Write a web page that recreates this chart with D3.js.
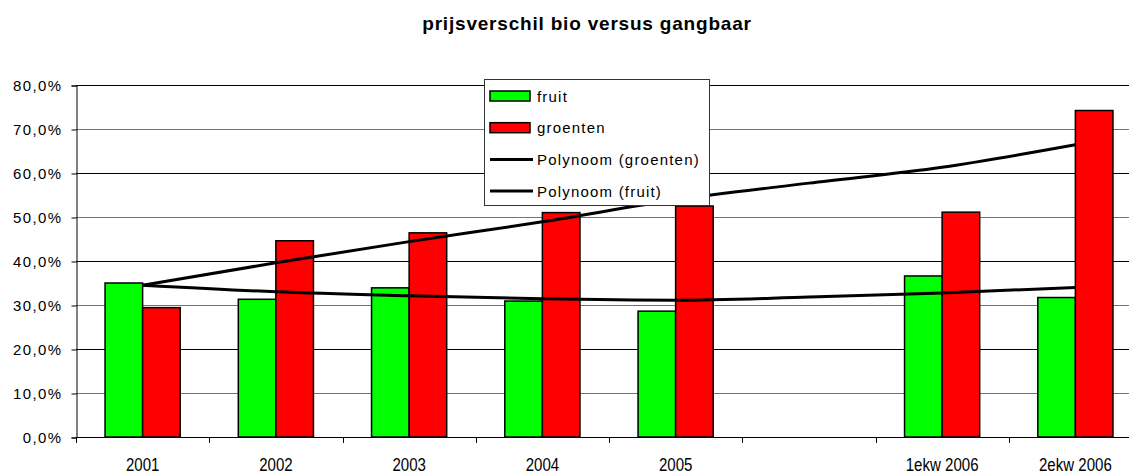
<!DOCTYPE html>
<html>
<head>
<meta charset="utf-8">
<script src="https://cdn.jsdelivr.net/npm/d3@7"></script>
<style>
  body { margin: 0; background: #fff; }
  svg { display: block; font-family: "Liberation Sans", Arial, sans-serif; }
</style>
</head>
<body>
<svg id="chart" width="1129" height="473"></svg>
<script>
// categories (one empty slot between 2005 and 1ekw 2006)
var categories = ['2001', '2002', '2003', '2004', '2005', '', '1ekw 2006', '2ekw 2006'];
var fruit =    [35.0, 31.3, 33.9, 30.9, 28.6, null, 36.6, 31.7];
var groenten = [29.4, 44.6, 46.4, 51.0, 52.5, null, 51.1, 74.2];
// trend lines at each category centre
var trendGroenten = [34.5, 39.6, 44.4, 48.9, 53.9, 57.7, 61.3, 66.4];
var trendFruit =    [34.5, 33.0, 32.1, 31.4, 31.1, 31.8, 32.7, 34.0];
var yTicks = [0, 10, 20, 30, 40, 50, 60, 70, 80];

var svg = d3.select('#chart');
var plotLeft = 76, plotRight = 1142, plotTop = 85, plotBottom = 437;

var x = d3.scaleBand().domain(d3.range(categories.length)).range([plotLeft, plotRight]).padding(0);
var y = d3.scaleLinear().domain([0, 80]).range([plotBottom, plotTop]);
var barW = x.bandwidth() * 0.282;

// title
svg.append('text')
    .attr('x', 587).attr('y', 30)
    .attr('text-anchor', 'middle')
    .style('font-size', '19px').style('font-weight', 'bold')
    .style('letter-spacing', '0.8px')
    .text('prijsverschil bio versus gangbaar');

// gridlines
svg.append('g').selectAll('line').data(yTicks).enter().append('line')
    .attr('x1', plotLeft).attr('x2', plotRight)
    .attr('y1', function(d) { return Math.round(y(d)) + 0.5; })
    .attr('y2', function(d) { return Math.round(y(d)) + 0.5; })
    .attr('stroke', '#000').attr('stroke-width', 1)
    .attr('stroke-opacity', function(d, i) { return i % 2 ? 0.55 : 1; });

// y axis
var yAxis = svg.append('g')
    .attr('transform', 'translate(' + (plotLeft + 0.5) + ',0.5)')
    .call(d3.axisLeft(y).tickValues(yTicks).tickSize(5).tickPadding(9)
        .tickFormat(function(d) { return d.toFixed(1).replace('.', ',') + '%'; }));
yAxis.select('.domain').attr('stroke', '#000');
yAxis.selectAll('.tick line').attr('stroke', '#000');
yAxis.selectAll('text').style('font-size', '15px').attr('fill', '#000')
    .style('letter-spacing', '1.4px')
    .style('font-family', '"Liberation Sans", Arial, sans-serif');

// x axis ticks at category boundaries
var xb = d3.scaleLinear().domain([0, categories.length]).range([plotLeft, plotRight]);
svg.append('g').selectAll('line').data(d3.range(categories.length + 1)).enter().append('line')
    .attr('x1', function(d) { return Math.round(xb(d)) + 0.5; })
    .attr('x2', function(d) { return Math.round(xb(d)) + 0.5; })
    .attr('y1', plotBottom).attr('y2', plotBottom + 6)
    .attr('stroke', '#000');
svg.append('line')
    .attr('x1', plotLeft).attr('x2', plotRight)
    .attr('y1', plotBottom + 0.5).attr('y2', plotBottom + 0.5)
    .attr('stroke', '#000');

svg.append('g').selectAll('text').data(categories).enter().append('text')
    .attr('transform', function(d, i) {
        return 'translate(' + (x(i) + x.bandwidth() / 2) + ',471) scale(0.86,1)';
    })
    .attr('text-anchor', 'middle')
    .style('font-size', '17.5px')
    .text(function(d) { return d; });

// bars
function drawBars(values, color, offset) {
    svg.append('g').selectAll('rect')
        .data(values.map(function(v, i) { return {v: v, i: i}; }).filter(function(d) { return d.v != null; }))
        .enter().append('rect')
        .attr('x', function(d) { return x(d.i) + x.bandwidth() / 2 + offset * barW; })
        .attr('y', function(d) { return y(d.v); })
        .attr('width', barW)
        .attr('height', function(d) { return plotBottom - y(d.v); })
        .attr('fill', color)
        .attr('stroke', '#000').attr('stroke-width', 1.5);
}
drawBars(fruit, '#00ff00', -1);
drawBars(groenten, '#ff0000', 0);

// trend lines
var line = d3.line()
    .x(function(d, i) { return x(i) + x.bandwidth() / 2; })
    .y(function(d) { return y(d); })
    .curve(d3.curveMonotoneX);
[trendGroenten, trendFruit].forEach(function(t) {
    svg.append('path').attr('d', line(t))
        .attr('fill', 'none').attr('stroke', '#000').attr('stroke-width', 3);
});

// legend
var lg = svg.append('g').attr('transform', 'translate(484,79)');
lg.append('rect').attr('x', 0.5).attr('y', 0.5).attr('width', 225).attr('height', 126)
    .attr('fill', '#fff').attr('stroke', '#333').attr('stroke-width', 1);
var legendItems = [
    {label: 'fruit', type: 'bar', color: '#00ff00'},
    {label: 'groenten', type: 'bar', color: '#ff0000'},
    {label: 'Polynoom (groenten)', type: 'line'},
    {label: 'Polynoom (fruit)', type: 'line'}
];
var li = lg.selectAll('g.item').data(legendItems).enter().append('g')
    .attr('class', 'item')
    .attr('transform', function(d, i) { return 'translate(0,' + (17 + i * 31.7) + ')'; });
li.filter(function(d) { return d.type === 'bar'; }).append('rect')
    .attr('x', 6).attr('y', -5).attr('width', 40).attr('height', 10)
    .attr('fill', function(d) { return d.color; })
    .attr('stroke', '#000').attr('stroke-width', 1.5);
li.filter(function(d) { return d.type === 'line'; }).append('line')
    .attr('x1', 6).attr('x2', 49).attr('y1', 0).attr('y2', 0)
    .attr('stroke', '#000').attr('stroke-width', 3);
li.append('text')
    .attr('x', 53).attr('y', 5.5)
    .style('font-size', '15px')
    .style('letter-spacing', '1.2px')
    .text(function(d) { return d.label; });
</script>
</body>
</html>
